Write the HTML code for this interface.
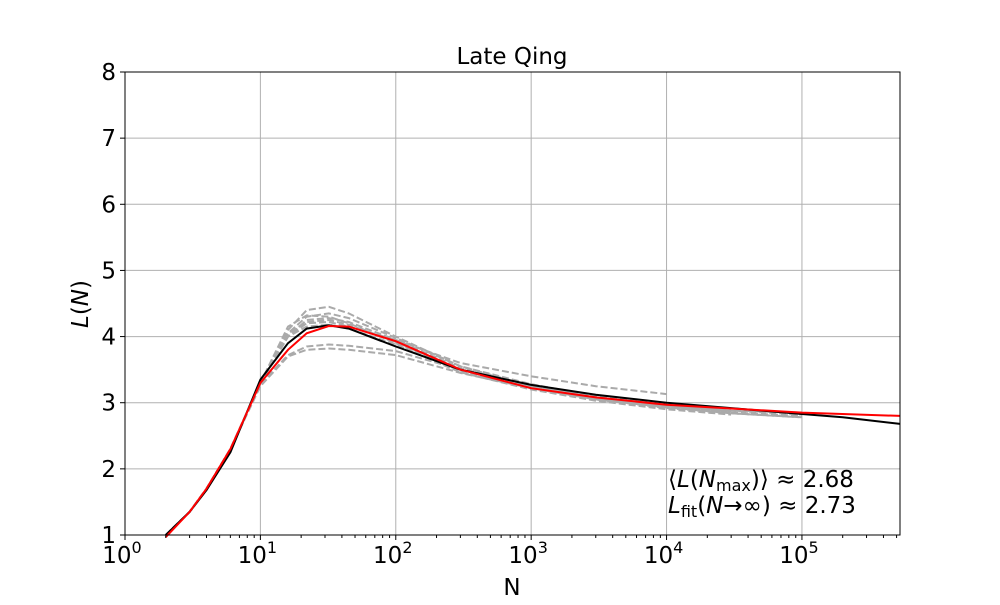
<!DOCTYPE html>
<html><head><meta charset="utf-8"><style>
body{margin:0;background:#fff}
svg{font-family:"DejaVu Sans","Liberation Sans",sans-serif}
</style></head><body>
<svg id="c" width="1000" height="600" viewBox="0 0 1000 600">
<text x="512" y="64" font-size="23" text-anchor="middle">Late Qing</text>
<g id="grid"></g><g id="series"></g>
<rect x="125" y="72" width="775" height="463" fill="none" stroke="#000" stroke-width="1"/>
<g id="ticks"></g>
<text x="512" y="595" font-size="23" text-anchor="middle">N</text>
<text transform="translate(88,304) rotate(-90)" font-size="23" text-anchor="middle"><tspan font-style="italic">L</tspan>(<tspan font-style="italic">N</tspan>)</text>
<text x="668" y="487" font-size="23">⟨<tspan font-style="italic">L</tspan>(<tspan font-style="italic">N</tspan><tspan font-size="16" dy="4">max</tspan><tspan dy="-4">)⟩ ≈ 2.68</tspan></text>
<text x="668" y="513" font-size="23"><tspan font-style="italic">L</tspan><tspan font-size="16" dy="4">fit</tspan><tspan dy="-4">(</tspan><tspan font-style="italic">N</tspan>→∞) ≈ 2.73</text>
</svg>
<script>
const gridN=[2,3,4,6,10,16,22,32,45,100,300,1000,3000,1e4,3e4,1e5];
const gray1=[1,1.35,1.7,2.3,3.3,4.1,4.4,4.45,4.35,4.0,3.55,3.25,3.05,2.93,2.85,2.8];
const gray2=[1,1.35,1.7,2.3,3.3,4.05,4.3,4.35,4.28,3.98,3.55,3.28,3.1,2.97,2.88,2.82];
const gray3=[1,1.35,1.68,2.28,3.3,4.0,4.25,4.28,4.22,3.95,3.52,3.25,3.08,2.95,2.85];
const gray4=[1,1.35,1.7,2.3,3.25,3.7,3.8,3.82,3.8,3.72,3.45,3.22,3.05,2.93,2.84,2.78];
const gray5=[1,1.35,1.7,2.3,3.28,3.72,3.85,3.88,3.86,3.78,3.5,3.28,3.08,2.95,2.87];
const gray6=[1,1.35,1.7,2.3,3.3,4.0,4.2,4.22,4.15,3.95,3.6,3.4,3.25,3.13];
const gray7=[1,1.35,1.7,2.3,3.3,4.15,4.32,4.3,4.2,3.9,3.48,3.22,3.05,2.92,2.84,2.78];
const gray8=[1,1.35,1.7,2.3,3.3,4.0,4.15,4.18,4.12,3.88,3.46,3.2,3.03,2.9,2.82];
const gray9=[1,1.35,1.7,2.3,3.3,4.05,4.22,4.25,4.18,3.92,3.5,3.24,3.07,2.96,2.88,2.85];
const blackN=[2,3,4,6,10,16,22,32,45,100,300,1000,3000,1e4,1e5,2e5,5.3e5];
const blackL=[1.0,1.35,1.68,2.25,3.35,3.9,4.12,4.17,4.12,3.85,3.5,3.27,3.12,3.0,2.83,2.78,2.68];
const redN=[2,3,4,6,10,16,22,32,45,100,300,1000,3000,1e4,1e5,5.3e5];
const redL=[0.97,1.35,1.7,2.3,3.3,3.8,4.05,4.16,4.15,3.93,3.5,3.22,3.08,2.97,2.85,2.8];
const yTicks=[1,2,3,4,5,6,7,8];
const xExps=[0,1,2,3,4,5];
const X0=125,X1=900,Y0=535,Y1=72,LMAX=Math.log10(5.3e5);
const sx=n=>X0+Math.log10(n)/LMAX*(X1-X0);
const sy=v=>Y0-(v-1)/7*(Y0-Y1);
const NS='http://www.w3.org/2000/svg';
function mk(t,a,p){const e=document.createElementNS(NS,t);for(const k in a)e.setAttribute(k,a[k]);p.appendChild(e);return e;}
const G=document.getElementById('grid'),T=document.getElementById('ticks'),S=document.getElementById('series');
yTicks.forEach(v=>{const y=sy(v);
 const l=mk('line',{x1:X0,x2:X1,y1:y,y2:y,stroke:'#b0b0b0','stroke-width':1},G);
 
 mk('line',{x1:X0-5,x2:X0,y1:y,y2:y,stroke:'#000'},T);
 const t=mk('text',{x:X0-9,y:y+8,'font-size':23,'text-anchor':'end'},T);t.textContent=v;
 });
xExps.forEach(e=>{const x=sx(Math.pow(10,e));
 const l=mk('line',{x1:x,x2:x,y1:Y1,y2:Y0,stroke:'#b0b0b0','stroke-width':1},G);
 
 mk('line',{x1:x,x2:x,y1:Y0,y2:Y0+5,stroke:'#000'},T);
 const t=mk('text',{x:x-3,y:Y0+28,'font-size':23,'text-anchor':'middle'},T);
 t.innerHTML='10<tspan font-size="16" dy="-10">'+e+'</tspan>';
 
 for(let k=2;k<10;k++){const n=k*Math.pow(10,e);if(Math.log10(n)>LMAX)break;const xm=sx(n);mk('line',{x1:xm,x2:xm,y1:Y0,y2:Y0+3,stroke:'#000'},T);}});
function path(ns,ls){return ls.map((v,i)=>(i?'L':'M')+sx(ns[i]).toFixed(1)+' '+sy(v).toFixed(1)).join(' ');}
[gray1,gray2,gray3,gray4,gray5,gray6,gray7,gray8,gray9].forEach(g=>{
 const p=mk('path',{d:path(gridN,g),fill:'none',stroke:'#aaaaaa','stroke-width':2,'stroke-dasharray':'7,3'},S);
 });
const b=mk('path',{d:path(blackN,blackL),fill:'none',stroke:'#000','stroke-width':2},S);

const r=mk('path',{d:path(redN,redL),fill:'none',stroke:'#ff0000','stroke-width':2},S);

</script>
</body></html>
